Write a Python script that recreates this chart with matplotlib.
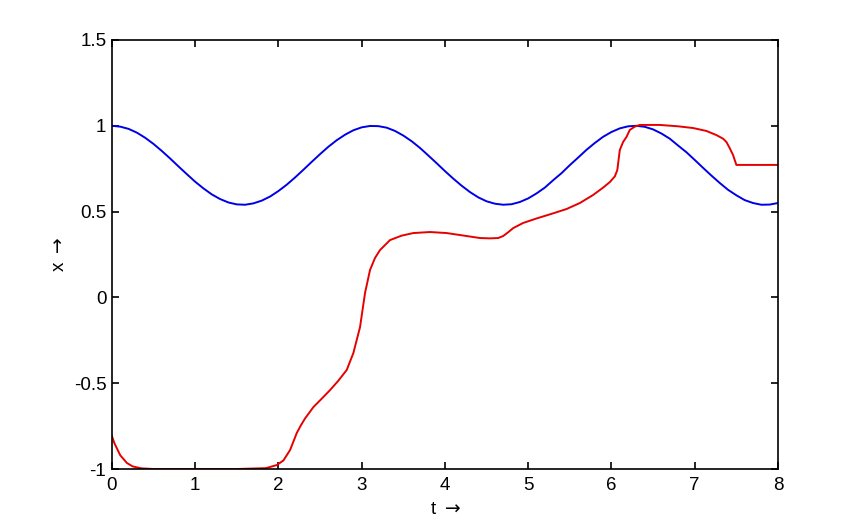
import numpy as np
import matplotlib.pyplot as plt

# blue curve, every 0.1
t_blue = np.arange(0, 8.001, 0.1)
x_blue = [1.000, 0.995, 0.982, 0.960, 0.930, 0.894, 0.853, 0.809, 0.763, 0.718,
          0.674, 0.635, 0.600, 0.573, 0.553, 0.542, 0.540, 0.548, 0.564, 0.588,
          0.620, 0.657, 0.699, 0.744, 0.790, 0.835, 0.878, 0.916, 0.948, 0.974,
          0.991, 0.999, 0.998, 0.989, 0.970, 0.943, 0.910, 0.871, 0.827, 0.782,
          0.736, 0.692, 0.651, 0.614, 0.583, 0.560, 0.546, 0.540, 0.543, 0.556,
          0.577, 0.606, 0.640, 0.683, 0.724, 0.771, 0.815, 0.860, 0.900, 0.936,
          0.964, 0.985, 0.997, 1.000, 0.994, 0.979, 0.955, 0.925, 0.885, 0.846,
          0.801, 0.755, 0.710, 0.667, 0.627, 0.595, 0.567, 0.550, 0.540, 0.541,
          0.550]

# red curve
t_red = [0.00, 0.03, 0.10, 0.18, 0.25, 0.35, 0.50, 1.00, 1.50, 1.85, 1.98,
         2.06, 2.14, 2.18, 2.22, 2.27, 2.32, 2.42, 2.52, 2.62, 2.72, 2.82, 2.90, 2.98,
         3.04, 3.10, 3.16, 3.22, 3.34, 3.48, 3.62, 3.82, 4.02, 4.20, 4.42,
         4.54, 4.64, 4.70, 4.76, 4.82, 4.94, 5.10, 5.30, 5.46, 5.62, 5.78,
         5.90, 5.98, 6.04, 6.07, 6.10, 6.14, 6.18, 6.22, 6.28, 6.34, 6.58,
         6.80, 6.98, 7.14, 7.26, 7.34, 7.38, 7.42, 7.46, 7.50, 7.75, 8.00]
x_red = [-0.808, -0.850, -0.920, -0.965, -0.985, -0.996, -1.000, -1.000, -1.000, -0.995, -0.977,
         -0.950, -0.889, -0.840, -0.790, -0.745, -0.705, -0.639, -0.590, -0.540, -0.485, -0.423,
         -0.324, -0.173,
         0.026, 0.160, 0.230, 0.276, 0.334, 0.360, 0.375, 0.381, 0.375, 0.362, 0.346,
         0.344, 0.346, 0.358, 0.380, 0.404, 0.434, 0.460, 0.490, 0.515, 0.550, 0.597,
         0.640, 0.672, 0.705, 0.742, 0.859, 0.906, 0.935, 0.976, 0.995, 1.005, 1.005,
         0.997, 0.987, 0.970, 0.946, 0.925, 0.906, 0.870, 0.830, 0.772, 0.772, 0.772]

plt.rcParams['font.family'] = ['Liberation Sans', 'DejaVu Sans']
plt.rcParams['mathtext.fontset'] = 'dejavusans'

fig = plt.figure(figsize=(8.61, 5.29), dpi=100)
ax = fig.add_axes([0.130, 0.1134, 0.7736, 0.811])

ax.plot(t_blue, x_blue, color=(0, 0, 0.9), lw=1.4)
ax.plot(t_red, x_red, color=(0.9, 0, 0), lw=1.4)

ax.set_xlim(0, 8)
ax.set_ylim(-1, 1.5)
ax.set_xticks(range(0, 9))
ax.set_yticks([-1, -0.5, 0, 0.5, 1, 1.5])
ax.set_yticklabels(['-1', '-0.5', '0', '0.5', '1', '1.5'])
ax.tick_params(direction='in', length=5, width=1.2, top=True, right=True,
               labelsize=13.5)
ax.tick_params(axis='x', pad=6)
ax.tick_params(axis='y', pad=4)
for s in ax.spines.values():
    s.set_linewidth(1.2)

ax.set_xlabel(r't $\rightarrow$', fontsize=13.5, labelpad=5)
ax.set_ylabel(r'x $\rightarrow$', fontsize=13.5, labelpad=4)

fig.savefig('out.png', dpi=100)
